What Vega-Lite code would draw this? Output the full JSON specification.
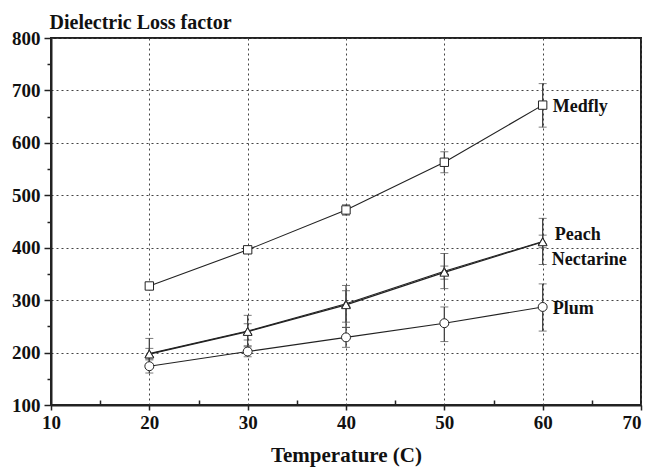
{
  "$schema": "https://vega.github.io/schema/vega-lite/v6.json",
  "width": 590,
  "height": 367,
  "padding": {"left": 51, "top": 38, "right": 8, "bottom": 67},
  "autosize": {"type": "none"},
  "background": "white",
  "config": {
    "view": {"stroke": "#222", "strokeWidth": 2},
    "font": "Liberation Serif"
  },
  "datasets": {
    "pts": [
      {"series": "Medfly", "temp": 20, "val": 327, "lo": 321, "hi": 333},
      {"series": "Medfly", "temp": 30, "val": 396, "lo": 391, "hi": 401},
      {"series": "Medfly", "temp": 40, "val": 472, "lo": 462, "hi": 482},
      {"series": "Medfly", "temp": 50, "val": 563, "lo": 543, "hi": 583},
      {"series": "Medfly", "temp": 60, "val": 672, "lo": 630, "hi": 713},
      {"series": "Peach", "temp": 20, "val": 198, "lo": 172, "hi": 227},
      {"series": "Peach", "temp": 30, "val": 241, "lo": 211, "hi": 271},
      {"series": "Peach", "temp": 40, "val": 293, "lo": 258, "hi": 328},
      {"series": "Peach", "temp": 50, "val": 355, "lo": 322, "hi": 389},
      {"series": "Peach", "temp": 60, "val": 412, "lo": 368, "hi": 456},
      {"series": "Nectarine", "temp": 20, "val": 197, "lo": 186, "hi": 208},
      {"series": "Nectarine", "temp": 30, "val": 240, "lo": 224, "hi": 255},
      {"series": "Nectarine", "temp": 40, "val": 291, "lo": 248, "hi": 318},
      {"series": "Nectarine", "temp": 50, "val": 353, "lo": 340, "hi": 365},
      {"series": "Nectarine", "temp": 60, "val": 411, "lo": 400, "hi": 424},
      {"series": "Plum", "temp": 20, "val": 174, "lo": 161, "hi": 188},
      {"series": "Plum", "temp": 30, "val": 202, "lo": 192, "hi": 213},
      {"series": "Plum", "temp": 40, "val": 229, "lo": 210, "hi": 248},
      {"series": "Plum", "temp": 50, "val": 256, "lo": 221, "hi": 287},
      {"series": "Plum", "temp": 60, "val": 287, "lo": 241, "hi": 331}
    ]
  },
  "data": {"name": "pts"},
  "encoding": {
    "x": {
      "field": "temp", "type": "quantitative",
      "scale": {"domain": [10, 70], "nice": false, "zero": false},
      "axis": {
        "title": "Temperature (C)",
        "values": [10, 15, 20, 25, 30, 35, 40, 45, 50, 55, 60, 65, 70],
        "labelExpr": "datum.value % 10 === 0 ? datum.label : ''",
        "labelAlign": {"condition": {"test": "datum.value === 70", "value": "right"}, "value": "center"},
        "labelFont": "Liberation Serif", "labelFontWeight": "bold", "labelFontSize": 19,
        "labelColor": "#111", "labelPadding": 3, "labelFlush": false, "labelBound": false,
        "titleFont": "Liberation Serif", "titleFontWeight": "bold", "titleFontSize": 21,
        "titleColor": "#111", "titlePadding": 12,
        "domainColor": "#222", "domainWidth": 2,
        "tickColor": "#222", "tickWidth": 1.5,
        "tickSize": {"condition": {"test": "datum.value % 10 === 0", "value": 5}, "value": -5},
        "grid": true,
        "gridColor": "#444", "gridDash": [2, 3], "gridWidth": 1,
        "gridOpacity": {"condition": {"test": "datum.value % 10 === 0", "value": 1}, "value": 0}
      }
    },
    "y": {
      "field": "val", "type": "quantitative",
      "scale": {"domain": [100, 800], "nice": false, "zero": false},
      "axis": {
        "title": "Dielectric Loss factor",
        "titleAngle": 0, "titleX": -2, "titleY": -10, "titleAlign": "left", "titleBaseline": "alphabetic",
        "titleFont": "Liberation Serif", "titleFontWeight": "bold", "titleFontSize": 20, "titleColor": "#111",
        "values": [100, 150, 200, 250, 300, 350, 400, 450, 500, 550, 600, 650, 700, 750, 800],
        "labelExpr": "datum.value % 100 === 0 ? datum.label : ''",
        "labelFont": "Liberation Serif", "labelFontWeight": "bold", "labelFontSize": 19,
        "labelColor": "#111", "labelPadding": 4, "labelFlush": false,
        "domainColor": "#222", "domainWidth": 2,
        "tickColor": "#222", "tickWidth": 1.5,
        "tickSize": {"condition": {"test": "datum.value % 100 === 0", "value": 7}, "value": 4},
        "grid": true,
        "gridColor": "#444", "gridDash": [2, 3], "gridWidth": 1,
        "gridOpacity": {"condition": {"test": "datum.value % 100 === 0", "value": 1}, "value": 0}
      }
    }
  },
  "layer": [
    {
      "mark": {"type": "errorbar", "ticks": {"size": 8, "color": "#444"}, "rule": {"color": "#444", "strokeWidth": 1.3}},
      "encoding": {
        "y": {"field": "lo", "type": "quantitative"},
        "y2": {"field": "hi"},
        "detail": {"field": "series"}
      }
    },
    {
      "mark": {"type": "line", "color": "#222", "strokeWidth": 1.1},
      "encoding": {"detail": {"field": "series"}}
    },
    {
      "mark": {"type": "point", "filled": true, "fill": "white", "stroke": "#222", "strokeWidth": 1, "opacity": 1},
      "encoding": {
        "shape": {
          "field": "series", "type": "nominal",
          "scale": {"domain": ["Medfly", "Peach", "Nectarine", "Plum"], "range": ["square", "triangle-up", "triangle-up", "circle"]},
          "legend": null
        },
        "size": {
          "field": "series", "type": "nominal",
          "scale": {"domain": ["Medfly", "Peach", "Nectarine", "Plum"], "range": [70, 80, 80, 110]},
          "legend": null
        }
      }
    },
    {
      "transform": [{"filter": "datum.temp === 60 && (datum.series === 'Medfly' || datum.series === 'Plum')"}],
      "mark": {"type": "text", "align": "left", "baseline": "middle", "dx": 10, "dy": 2, "font": "Liberation Serif", "fontWeight": "bold", "fontSize": 18, "color": "#111"},
      "encoding": {"text": {"field": "series"}}
    },
    {
      "transform": [{"filter": "datum.temp === 60 && datum.series === 'Peach'"}],
      "mark": {"type": "text", "align": "left", "baseline": "middle", "dx": 12, "dy": -6, "font": "Liberation Serif", "fontWeight": "bold", "fontSize": 18, "color": "#111"},
      "encoding": {"text": {"field": "series"}}
    },
    {
      "transform": [{"filter": "datum.temp === 60 && datum.series === 'Nectarine'"}],
      "mark": {"type": "text", "align": "left", "baseline": "middle", "dx": 9, "dy": 18, "font": "Liberation Serif", "fontWeight": "bold", "fontSize": 18, "color": "#111"},
      "encoding": {"text": {"field": "series"}}
    }
  ]
}
